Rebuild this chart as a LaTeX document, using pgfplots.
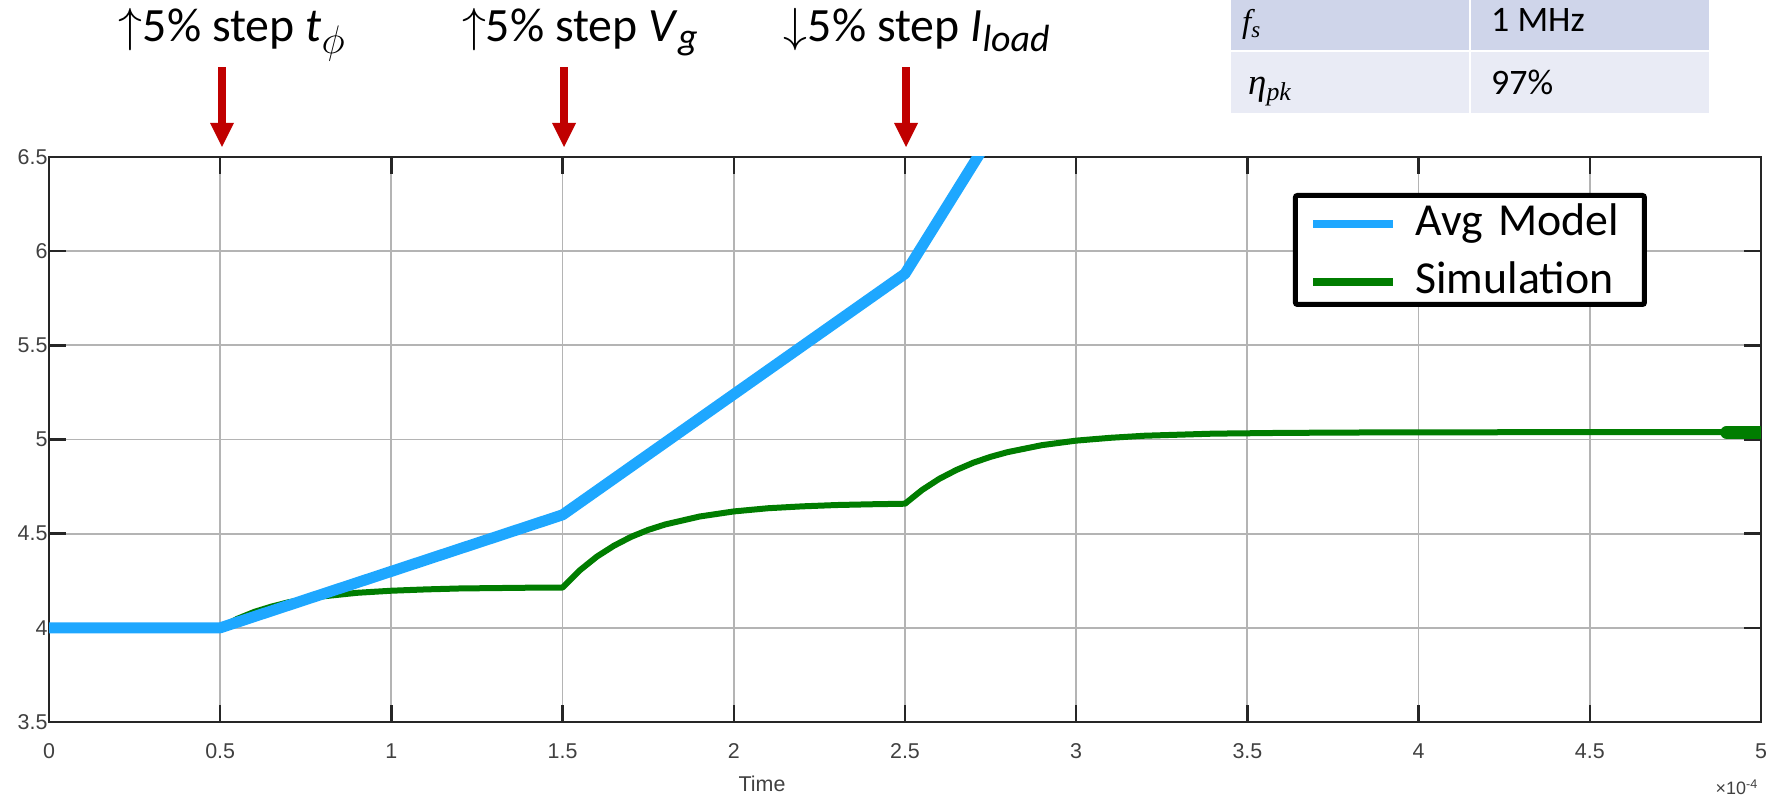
\RequirePackage{fix-cm}
\documentclass[border=0pt]{standalone}
\usepackage{fontspec}
\setmainfont{Carlito}
\newfontfamily\helv{Liberation Sans}
\newfontfamily\tnr{Liberation Serif}
\usepackage{pgfplots}
\usepackage{pgfplotstable}
\pgfplotsset{compat=1.18}
\definecolor{avgblue}{RGB}{30,167,255}
\definecolor{simgreen}{RGB}{0,125,0}
\definecolor{arrowred}{RGB}{192,0,0}
\definecolor{axgray}{RGB}{38,38,38}
\definecolor{lblgray}{RGB}{64,64,64}
\definecolor{gridgray}{RGB}{180,180,180}
\definecolor{rowA}{RGB}{207,213,234}
\definecolor{rowB}{RGB}{233,235,245}

\pgfplotstableread{
t v
0 4.0
0.5 4.0
1.5 4.6
2.5 5.88
2.75 6.61
}\avgdata

\pgfplotstableread{
t v
0 4.0
0.5 4.0
0.55 4.048
0.6 4.085
0.65 4.113
0.7 4.136
0.75 4.153
0.8 4.167
0.9 4.186
1.0 4.197
1.1 4.204
1.2 4.209
1.3 4.211
1.4 4.213
1.5 4.214
1.55 4.305
1.6 4.378
1.65 4.436
1.7 4.483
1.75 4.520
1.8 4.549
1.9 4.591
2.0 4.618
2.1 4.635
2.2 4.645
2.3 4.652
2.4 4.656
2.5 4.659
2.55 4.732
2.6 4.791
2.65 4.838
2.7 4.877
2.75 4.908
2.8 4.933
2.9 4.970
3.0 4.994
3.1 5.009
3.2 5.020
3.4 5.031
3.6 5.035
3.8 5.037
4.0 5.038
4.5 5.039
5.0 5.039
}\simdata

\begin{document}
\begin{tikzpicture}[x=1bp,y=1bp]
\useasboundingbox (0,0) rectangle (1771,798);
% parameter table
\fill[rowA] (1231,748) rectangle (1468.5,798);
\fill[rowA] (1470.5,748) rectangle (1709,798);
\fill[rowB] (1231,685) rectangle (1468.5,746);
\fill[rowB] (1470.5,685) rectangle (1709,746);
\node[anchor=base west, inner sep=0, font=\tnr\itshape\fontsize{33}{36}\selectfont] at (1242,765) {f\textsubscript{s}};
\node[anchor=base west, inner sep=0, font=\fontsize{36}{40}\selectfont] at (1491,766) {1 MHz};
\node[anchor=base west, inner sep=0, font=\tnr\itshape\fontsize{37}{40}\selectfont] at (1248,703) {η\textsubscript{pk}};
\node[anchor=base west, inner sep=0, font=\fontsize{36}{40}\selectfont] at (1491,703) {97\%};

\begin{axis}[
  at={(49bp,76bp)}, anchor=south west,
  scale only axis, width=1712bp, height=565bp,
  xmin=0, xmax=5, ymin=3.5, ymax=6.5,
  xtick={0,0.5,1,1.5,2,2.5,3,3.5,4,4.5,5},
  ytick={3.5,4,4.5,5,5.5,6,6.5},
  grid=major,
  major grid style={line width=1.8bp, color=gridgray},
  axis line style={line width=2.5bp, color=axgray},
  tick style={line width=2.5bp, color=axgray},
  major tick length=17bp,
  tick align=inside,
  /pgf/number format/assume math mode=true,
  ticklabel style={font=\helv\fontsize{21.5}{24}\selectfont, text=lblgray},
  xticklabel style={yshift=-18bp},
  yticklabel style={xshift=2bp},
  xlabel={Time},
  xlabel style={at={(axis description cs:0.4165,0)}, anchor=base, yshift=-70bp,
    font=\helv\fontsize{21.5}{24}\selectfont, text=lblgray},
  clip mode=individual,
  legend cell align=left,
  legend style={
    at={(axis description cs:0.7266,0.9363)}, anchor=north west,
    draw=black, line width=5bp, rounded corners=2bp, fill=white,
    font=\fontsize{46}{54}\selectfont,
    inner xsep=14bp, inner ysep=6bp,
    row sep=19bp,
    cells={anchor=base west},
    nodes={inner sep=0bp, text height=34bp, text depth=5bp},
    /tikz/every odd column/.append style={column sep=18bp},
    /tikz/every even column/.append style={text width=215bp},
  },
  legend image code/.code={\draw[#1, line width=8bp] (0bp,11bp) -- (80bp,11bp);},
]
% simulation first, so that the average model is drawn on top of it
\addplot[simgreen, line width=6bp, line join=round, forget plot] table[x=t, y=v] {\simdata};
\addplot[simgreen, line width=13bp, line cap=round, forget plot] coordinates {(4.9,5.038) (4.995,5.038)};
\addplot[avgblue, line width=11bp, line join=round] table[x=t, y=v] {\avgdata};
\addlegendentry{Avg Model}
\addlegendimage{simgreen, line width=6bp}
\addlegendentry{Simulation}
\end{axis}

% step arrows
\foreach \x in {222,564,906} {
  \fill[arrowred] (\x-4.2,731) rectangle (\x+4.2,674);
  \fill[arrowred] (\x-12,675) -- (\x+12,675) -- (\x,651) -- cycle;
}
% annotations
\node[anchor=base, inner sep=0, font=\fontsize{48}{54}\selectfont] at (232,756)
  {$\uparrow$5\% step \textit{t}\textsubscript{\fontsize{40}{44}\selectfont$\phi$}};
\node[anchor=base, inner sep=0, font=\fontsize{48}{54}\selectfont] at (580,756)
  {$\uparrow$5\% step \textit{V}\textsubscript{\fontsize{38}{44}\selectfont\textit{g}}};
\node[anchor=base, inner sep=0, font=\fontsize{48}{54}\selectfont] at (917,756)
  {$\downarrow$5\% step \textit{I}\textsubscript{\fontsize{38}{44}\selectfont\textit{load}}};
% exponent label
\node[anchor=base east, inner sep=0, font=\helv\fontsize{18}{20}\selectfont, text=lblgray] at (1758,3)
  {×10\textsuperscript{-4}};
\end{tikzpicture}
\end{document}
